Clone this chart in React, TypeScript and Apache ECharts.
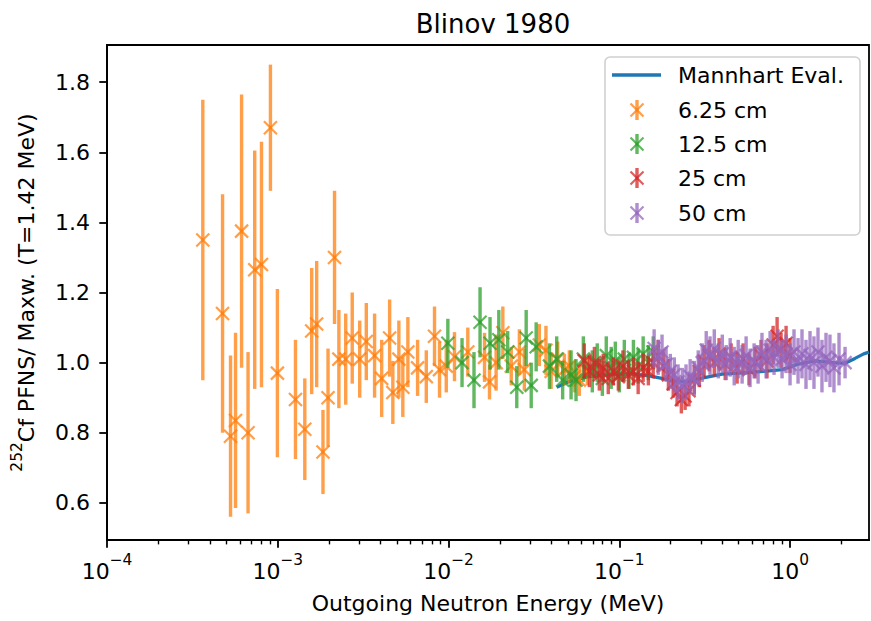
import React, { useEffect, useRef } from 'react';
import * as echarts from 'echarts';

const FONT = '"DejaVu Sans", Verdana, sans-serif';

const X_MIN = 1e-4;
const X_MAX = 2.9;
const Y_MIN = 0.494;
const Y_MAX = 1.906;

const xTicks = [1e-4, 1e-3, 1e-2, 1e-1, 1];
const yTicks = [0.6, 0.8, 1.0, 1.2, 1.4, 1.6, 1.8];
const xMinorTicks = [
  2e-4, 3e-4, 4e-4, 5e-4, 6e-4, 7e-4, 8e-4, 9e-4,
  2e-3, 3e-3, 4e-3, 5e-3, 6e-3, 7e-3, 8e-3, 9e-3,
  2e-2, 3e-2, 4e-2, 5e-2, 6e-2, 7e-2, 8e-2, 9e-2,
  0.2, 0.3, 0.4, 0.5, 0.6, 0.7, 0.8, 0.9,
  2,
];

const TITLE = 'Blinov 1980';
const X_NAME = 'Outgoing Neutron Energy (MeV)';
const Y_NAME_SUP = '252';
const Y_NAME = 'Cf PFNS/ Maxw. (T=1.42 MeV)';

const legendLabels = ['Mannhart Eval.', '6.25 cm', '12.5 cm', '25 cm', '50 cm'];
const colors = ['#1f77b4', '#ff7f0e', '#2ca02c', '#d62728', '#9467bd'];

// Mannhart evaluation ratio
const mannE = [0.043, 0.05, 0.06, 0.07, 0.09, 0.12, 0.15, 0.2, 0.25, 0.3, 0.4, 0.5, 0.7, 0.9, 1.1, 1.4, 1.8, 2.1, 2.4, 2.7, 2.9];
const mannV = [0.93, 0.945, 0.955, 0.962, 0.966, 0.968, 0.962, 0.95, 0.945, 0.955, 0.967, 0.97, 0.975, 0.98, 0.995, 1.005, 1.0, 0.998, 1.012, 1.025, 1.03];

// 6.25 cm
const orangeE = [3.64e-4, 4.75e-4, 5.29e-4, 5.66e-4, 6.14e-4, 6.7e-4, 7.33e-4, 8.03e-4, 9.06e-4, 9.95e-4,
  1.27e-3, 1.44e-3, 1.58e-3, 1.69e-3, 1.84e-3, 1.97e-3, 2.15e-3, 2.28e-3, 2.5e-3, 2.73e-3,
  3.02e-3, 3.3e-3, 3.69e-3, 4.06e-3, 4.52e-3, 4.72e-3, 5.12e-3, 5.4e-3, 5.78e-3, 6.59e-3,
  7.41e-3, 8.28e-3, 8.86e-3, 9.7e-3, 1.084e-2, 1.297e-2, 1.625e-2, 1.738e-2, 1.9e-2, 2.08e-2,
  2.33e-2, 2.6e-2, 2.78e-2, 3.4e-2, 3.72e-2, 3.99e-2, 4.36e-2, 4.77e-2, 5.1e-2, 5.46e-2, 5.83e-2, 6.5e-2];
const orangeV = [1.35, 1.14, 0.79, 0.835, 1.375, 0.8, 1.265, 1.28, 1.67, 0.97,
  0.895, 0.81, 1.09, 1.11, 0.745, 0.9, 1.3, 1.01, 1.01, 1.07,
  1.01, 1.06, 1.02, 0.955, 1.07, 0.915, 1.01, 0.93, 1.03, 0.985,
  0.96, 1.075, 0.98, 0.99, 1.017, 1.03, 1.015, 0.945, 1.0, 1.085,
  0.99, 1.03, 0.98, 1.05, 1.035, 0.975, 1.01, 0.98, 0.99, 0.96, 0.95, 0.975];
const orangeErr = [0.4, 0.34, 0.23, 0.25, 0.39, 0.23, 0.34, 0.35, 0.18, 0.24,
  0.17, 0.145, 0.18, 0.18, 0.12, 0.14, 0.19, 0.14, 0.13, 0.13,
  0.11, 0.11, 0.12, 0.11, 0.11, 0.09, 0.11, 0.085, 0.1, 0.08,
  0.075, 0.085, 0.08, 0.075, 0.07, 0.07, 0.07, 0.05, 0.08, 0.075,
  0.055, 0.065, 0.06, 0.06, 0.07, 0.05, 0.05, 0.045, 0.045, 0.045, 0.045, 0.04];

// 12.5 cm
const greenE = [0.00991, 0.012, 0.0141, 0.0153, 0.0175, 0.0197, 0.0222, 0.0251, 0.0285, 0.0305,
  0.0326, 0.039, 0.043, 0.0466, 0.0522, 0.0558, 0.0616, 0.0695, 0.0743, 0.0796,
  0.0839, 0.0897, 0.0948, 0.1, 0.107, 0.114, 0.121, 0.129, 0.138, 0.148, 0.158];
const greenV = [1.055, 1.0, 0.95, 1.115, 1.055, 1.065, 1.03, 0.93, 1.07, 0.935,
  1.045, 0.99, 1.01, 0.95, 0.965, 0.95, 1.01, 0.975, 1.0, 0.955,
  1.02, 0.985, 1.005, 0.965, 1.01, 0.975, 1.015, 0.99, 1.025, 1.0, 1.03];
const greenErr = [0.07, 0.07, 0.08, 0.1, 0.075, 0.085, 0.06, 0.06, 0.08, 0.065,
  0.07, 0.065, 0.065, 0.055, 0.07, 0.06, 0.065, 0.06, 0.055, 0.05,
  0.055, 0.06, 0.055, 0.05, 0.055, 0.05, 0.05, 0.05, 0.05, 0.05, 0.045];

// 25 cm
const redE = [0.0624, 0.0668, 0.0715, 0.0764, 0.0805, 0.0862, 0.0923, 0.0987, 0.105, 0.113,
  0.121, 0.129, 0.138, 0.148, 0.158, 0.169, 0.181, 0.194, 0.207, 0.218,
  0.231, 0.243, 0.256, 0.275, 0.294, 0.314, 0.336, 0.36, 0.384, 0.417,
  0.452, 0.49, 0.531, 0.575, 0.624, 0.676, 0.733, 0.796, 0.84, 0.886, 0.948, 1.0];
const redV = [1.005, 0.975, 1.0, 0.965, 0.985, 0.955, 0.975, 0.96, 0.99, 0.965,
  0.975, 0.955, 0.985, 0.975, 1.0, 1.02, 0.99, 0.965, 0.94, 0.915,
  0.895, 0.905, 0.92, 0.95, 0.975, 1.005, 1.02, 1.0, 1.025, 0.995,
  1.015, 0.985, 1.01, 0.98, 1.0, 1.02, 1.005, 1.05, 1.075, 1.035, 1.055, 1.02];
const redErr = [0.05, 0.045, 0.045, 0.045, 0.04, 0.045, 0.04, 0.04, 0.045, 0.04,
  0.04, 0.045, 0.04, 0.04, 0.045, 0.045, 0.04, 0.045, 0.04, 0.04,
  0.04, 0.04, 0.045, 0.04, 0.045, 0.045, 0.045, 0.04, 0.045, 0.045,
  0.04, 0.045, 0.045, 0.045, 0.045, 0.045, 0.05, 0.055, 0.055, 0.05, 0.05, 0.05];

// 50 cm
const purpleE = [0.16, 0.169, 0.178, 0.188, 0.199, 0.21, 0.221, 0.234, 0.246, 0.26,
  0.275, 0.29, 0.306, 0.323, 0.34, 0.36, 0.38, 0.401, 0.423, 0.446,
  0.471, 0.497, 0.524, 0.553, 0.583, 0.616, 0.65, 0.685, 0.724, 0.764,
  0.806, 0.851, 0.898, 0.948, 1.0, 1.055, 1.114, 1.175, 1.24, 1.309,
  1.381, 1.458, 1.538, 1.624, 1.713, 1.808, 1.936, 2.1];
const purpleV = [1.04, 1.015, 1.03, 0.995, 0.975, 0.965, 0.945, 0.935, 0.945, 0.96,
  0.955, 0.985, 1.0, 1.035, 1.02, 1.04, 1.005, 1.025, 1.0, 1.015,
  0.99, 1.01, 0.995, 1.02, 0.985, 1.005, 0.995, 1.03, 1.01, 1.035,
  1.015, 1.04, 1.01, 1.025, 0.995, 1.03, 1.005, 1.025, 0.995, 1.02,
  1.0, 1.03, 0.99, 1.015, 1.005, 0.985, 1.01, 1.0];
const purpleErr = [0.055, 0.05, 0.05, 0.05, 0.05, 0.05, 0.05, 0.05, 0.05, 0.05,
  0.05, 0.05, 0.055, 0.055, 0.055, 0.055, 0.05, 0.055, 0.05, 0.055,
  0.055, 0.055, 0.055, 0.055, 0.055, 0.05, 0.055, 0.055, 0.055, 0.055,
  0.05, 0.055, 0.055, 0.055, 0.06, 0.065, 0.065, 0.07, 0.07, 0.07,
  0.075, 0.07, 0.075, 0.07, 0.075, 0.07, 0.075, 0.045];

const EB_WIDTH = 3.4;
const MK_WIDTH = 2.2;
const MK = 6.5;
const ALPHA = 0.75;

function errorbarSeries(name: string, color: string, E: number[], V: number[], Err: number[]) {
  return {
    name,
    type: 'custom',
    clip: false,
    z: 3,
    xAxisIndex: 0,
    yAxisIndex: 0,
    encode: { x: 0, y: 1 },
    data: E.map((e, i) => [e, V[i], Err[i]]),
    renderItem: (params: any, api: any) => {
      const e = api.value(0);
      const v = api.value(1);
      const err = api.value(2);
      const top = api.coord([e, v + err]);
      const bot = api.coord([e, v - err]);
      const c = api.coord([e, v]);
      const st = { stroke: color, lineWidth: EB_WIDTH, opacity: ALPHA, fill: null };
      const sm = { stroke: color, lineWidth: MK_WIDTH, opacity: ALPHA, fill: null };
      return {
        type: 'group',
        children: [
          { type: 'line', shape: { x1: top[0], y1: top[1], x2: bot[0], y2: bot[1] }, style: st },
          { type: 'line', shape: { x1: c[0] - MK, y1: c[1] - MK, x2: c[0] + MK, y2: c[1] + MK }, style: sm },
          { type: 'line', shape: { x1: c[0] - MK, y1: c[1] + MK, x2: c[0] + MK, y2: c[1] - MK }, style: sm },
        ],
      };
    },
  };
}

function legendGraphic() {
  const x0 = 605, y0 = 57, w = 255, h = 178;
  const rows = [75, 110, 144, 178, 213];
  const children: any[] = [
    { type: 'rect', shape: { x: x0, y: y0, width: w, height: h, r: 5 }, style: { fill: 'rgba(255,255,255,0.8)', stroke: '#d0d0d0', lineWidth: 1.6 } },
    { type: 'line', shape: { x1: 612, y1: rows[0], x2: 661, y2: rows[0] }, style: { stroke: colors[0], lineWidth: 3.3 } },
  ];
  for (let i = 1; i < 5; i++) {
    const y = rows[i];
    const cx = 637;
    children.push({ type: 'line', shape: { x1: cx, y1: y - 10, x2: cx, y2: y + 10 }, style: { stroke: colors[i], lineWidth: EB_WIDTH, opacity: ALPHA } });
    children.push({ type: 'line', shape: { x1: cx - MK, y1: y - MK, x2: cx + MK, y2: y + MK }, style: { stroke: colors[i], lineWidth: MK_WIDTH, opacity: ALPHA } });
    children.push({ type: 'line', shape: { x1: cx - MK, y1: y + MK, x2: cx + MK, y2: y - MK }, style: { stroke: colors[i], lineWidth: MK_WIDTH, opacity: ALPHA } });
  }
  legendLabels.forEach((t, i) => {
    children.push({ type: 'text', x: 678, y: rows[i], style: { text: t, fontSize: 22, fontFamily: FONT, fill: '#000', verticalAlign: 'middle', align: 'left' } });
  });
  return { id: 'legend', type: 'group', z: 100, children };
}

export default function App() {
  const ref = useRef<HTMLDivElement>(null);
  useEffect(() => {
    if (!ref.current) return;
    const chart = echarts.init(ref.current, null, { renderer: 'svg' });
    const supExp = (v: number) => {
      const e = Math.round(Math.log10(v));
      const s = e < 0 ? '\u2212' + String(-e) : String(e);
      return '{b|10}{s|' + s + '}';
    };
    const option: any = {
      animation: false,
      backgroundColor: '#ffffff',
      textStyle: { fontFamily: FONT },
      title: {
        text: TITLE,
        left: 488,
        textAlign: 'center',
        top: 6,
        textStyle: { fontSize: 26, fontWeight: 'normal', color: '#000', fontFamily: FONT },
      },
      grid: { left: 107, right: 2, top: 45, bottom: 81, show: true, borderColor: '#000', borderWidth: 1.8, backgroundColor: 'transparent', containLabel: false },
      xAxis: [
        {
          type: 'log',
          logBase: 10,
          position: 'bottom',
          min: X_MIN,
          max: X_MAX,
          axisLine: { show: true, lineStyle: { color: '#000', width: 1.8 } },
          splitLine: { show: false },
          axisTick: { show: true, length: 7.7, customValues: xTicks, lineStyle: { color: '#000', width: 1.8 } },
          axisLabel: {
            customValues: xTicks,
            margin: 12,
            formatter: supExp,
            rich: {
              b: { fontSize: 22, fontFamily: FONT, color: '#000', lineHeight: 30, verticalAlign: 'bottom' },
              s: { fontSize: 15.4, fontFamily: FONT, color: '#000', lineHeight: 16, verticalAlign: 'top' },
            },
          },
          name: X_NAME,
          nameLocation: 'middle',
          nameGap: 52,
          nameTextStyle: { fontSize: 22, color: '#000', fontFamily: FONT },
        },
        {
          type: 'log',
          logBase: 10,
          position: 'bottom',
          offset: 0,
          min: X_MIN,
          max: X_MAX,
          axisLine: { show: true, lineStyle: { color: '#000', width: 1.8 } },
          splitLine: { show: false },
          axisLabel: { show: false },
          axisTick: { show: true, length: 4.4, customValues: xMinorTicks, lineStyle: { color: '#000', width: 1.4 } },
        },
      ],
      yAxis: {
        type: 'value',
        min: Y_MIN,
        max: Y_MAX,
        axisLine: { show: true, lineStyle: { color: '#000', width: 1.8 } },
        splitLine: { show: false },
        axisTick: { show: true, length: 7.7, customValues: yTicks, lineStyle: { color: '#000', width: 1.8 } },
        axisLabel: {
          customValues: yTicks,
          margin: 17,
          fontSize: 22,
          color: '#000',
          fontFamily: FONT,
          formatter: (v: number) => v.toFixed(1),
        },
        name: '{s|' + Y_NAME_SUP + '}{n|' + Y_NAME + '}',
        nameLocation: 'middle',
        nameGap: 70,
        nameRotate: 90,
        nameTextStyle: {
          color: '#000',
          fontFamily: FONT,
          rich: {
            s: { fontSize: 15.4, fontFamily: FONT, color: '#000', lineHeight: 16, verticalAlign: 'top' },
            n: { fontSize: 22, fontFamily: FONT, color: '#000', lineHeight: 28, verticalAlign: 'bottom' },
          },
        },
      },
      series: [
        {
          name: legendLabels[0],
          type: 'line',
          z: 1,
          xAxisIndex: 0,
          yAxisIndex: 0,
          data: mannE.map((e, i) => [e, mannV[i]]),
          showSymbol: false,
          symbol: 'none',
          lineStyle: { color: colors[0], width: 3.3 },
          clip: true,
        },
        errorbarSeries(legendLabels[1], colors[1], orangeE, orangeV, orangeErr),
        errorbarSeries(legendLabels[2], colors[2], greenE, greenV, greenErr),
        errorbarSeries(legendLabels[3], colors[3], redE, redV, redErr),
        errorbarSeries(legendLabels[4], colors[4], purpleE, purpleV, purpleErr),
      ],
      graphic: [legendGraphic()],
    };
    chart.setOption(option);
    return () => chart.dispose();
  }, []);
  return <div ref={ref} style={{ position: 'fixed', left: 0, top: 0, width: 871, height: 621 }} />;
}
